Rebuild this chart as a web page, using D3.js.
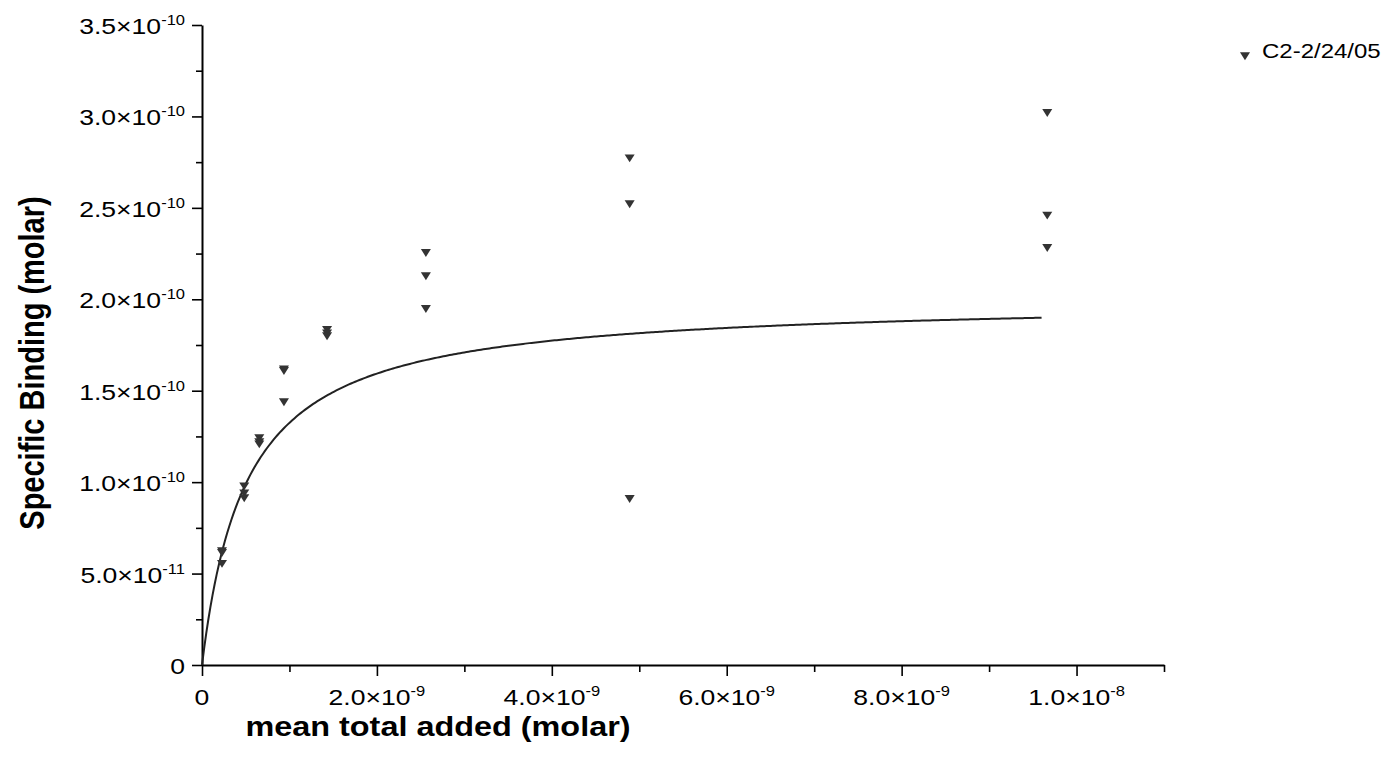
<!DOCTYPE html>
<html>
<head>
<meta charset="utf-8">
<script src="https://cdn.jsdelivr.net/npm/d3@7"></script>
<style>
  html, body { margin: 0; padding: 0; background: #fff; }
  svg { display: block; font-family: "Liberation Sans", Arial, sans-serif; }
</style>
</head>
<body>
<svg id="chart" width="1390" height="761"></svg>
<script>
// ---------- data ----------
const xAdded = [0.2286e-9, 0.483e-9, 0.655e-9, 0.937e-9, 1.43e-9, 2.56e-9, 4.89e-9, 9.665e-9];
const rep1 = [6.30e-11, 9.84e-11, 1.247e-10, 1.624e-10, 1.840e-10, 2.260e-10, 2.778e-10, 3.026e-10];
const rep2 = [6.20e-11, 9.46e-11, 1.225e-10, 1.615e-10, 1.820e-10, 2.133e-10, 2.527e-10, 2.465e-10];
const rep3 = [5.60e-11, 9.19e-11, 1.214e-10, 1.444e-10, 1.805e-10, 1.954e-10, 0.915e-10, 2.288e-10];
const seriesName = "C2-2/24/05";

// one-site binding fit: y = Bmax * x / (Kd + x)
const fitBmax = 2.0e-10;
const fitKd = 0.51e-9;
const fitXmax = 9.6e-9;

const xMajor = [0, 2e-9, 4e-9, 6e-9, 8e-9, 1e-8];
const xMinor = [1e-9, 3e-9, 5e-9, 7e-9, 9e-9, 1.1e-8];
const xTickLabels = [["0", ""], ["2.0×10", "-9"], ["4.0×10", "-9"], ["6.0×10", "-9"], ["8.0×10", "-9"], ["1.0×10", "-8"]];
const yMajor = [0, 5e-11, 1e-10, 1.5e-10, 2e-10, 2.5e-10, 3e-10, 3.5e-10];
const yMinor = [2.5e-11, 7.5e-11, 1.25e-10, 1.75e-10, 2.25e-10, 2.75e-10, 3.25e-10];
const yTickLabels = [["0", ""], ["5.0×10", "-11"], ["1.0×10", "-10"], ["1.5×10", "-10"], ["2.0×10", "-10"], ["2.5×10", "-10"], ["3.0×10", "-10"], ["3.5×10", "-10"]];
const xTitle = "mean total added (molar)";
const yTitle = "Specific Binding (molar)";

// ---------- drawing ----------
const svg = d3.select("#chart");
const sx = 1.18; // horizontal stretch of the original export

const x = d3.scaleLinear().domain([0, 1.1e-8]).range([202, 1164]);
const y = d3.scaleLinear().domain([0, 3.5e-10]).range([665, 25]);

const ink = "#000";
const markColor = "#333";

// X axis
const gx = svg.append("g").attr("transform", `translate(0,${y(0)})`);
gx.call(d3.axisBottom(x).tickValues(xMajor).tickSize(11).tickSizeOuter(0).tickFormat(""));
const gxm = svg.append("g").attr("transform", `translate(0,${y(0)})`);
gxm.call(d3.axisBottom(x).tickValues(xMinor).tickSize(7).tickSizeOuter(0).tickFormat(""));
gxm.select(".domain").remove();

// Y axis
const gy = svg.append("g").attr("transform", `translate(${x(0)},0)`);
gy.call(d3.axisLeft(y).tickValues(yMajor).tickSize(10).tickSizeOuter(0).tickFormat(""));
const gym = svg.append("g").attr("transform", `translate(${x(0)},0)`);
gym.call(d3.axisLeft(y).tickValues(yMinor).tickSize(6).tickSizeOuter(0).tickFormat(""));
gym.select(".domain").remove();

svg.selectAll(".domain").attr("stroke", ink).attr("stroke-width", 2);
svg.selectAll(".tick line").attr("stroke", ink).attr("stroke-width", 1.6);

// tick labels
function addLabel(g, px, py, parts, anchor) {
  const t = g.append("text")
    .attr("transform", `translate(${px},${py}) scale(${sx},1)`)
    .attr("text-anchor", anchor)
    .attr("font-size", 22.5)
    .attr("fill", ink);
  t.append("tspan").text(parts[0]);
  if (parts[1]) {
    t.append("tspan").attr("font-size", 14).attr("dy", -9).text(parts[1]);
  }
}
const lab = svg.append("g");
xMajor.forEach((v, i) => addLabel(lab, x(v), 705, xTickLabels[i], "middle"));
yMajor.forEach((v, i) => addLabel(lab, 185, y(v) + 9, yTickLabels[i], "end"));

// axis titles
svg.append("text")
  .attr("transform", `translate(438,736) scale(1.2,1)`)
  .attr("text-anchor", "middle")
  .attr("font-size", 27).attr("font-weight", "bold").attr("fill", ink)
  .text(xTitle);
svg.append("text")
  .attr("transform", `translate(44,363) scale(1.2,1) rotate(-90)`)
  .attr("text-anchor", "middle")
  .attr("font-size", 29).attr("font-weight", "bold").attr("fill", ink)
  .text(yTitle);

// fitted curve
const curveX = d3.range(0, 401).map(i => fitXmax * i / 400);
const line = d3.line()
  .x(d => x(d))
  .y(d => y(fitBmax * d / (fitKd + d)));
svg.append("path")
  .datum(curveX)
  .attr("d", line)
  .attr("fill", "none")
  .attr("stroke", "#222")
  .attr("stroke-width", 2);

// points
const tri = d3.symbol().type(d3.symbolTriangle).size(36);
const pts = [];
[rep1, rep2, rep3].forEach(rep => rep.forEach((v, i) => pts.push([xAdded[i], v])));
svg.append("g").selectAll("path").data(pts).join("path")
  .attr("d", tri)
  .attr("transform", d => `translate(${x(d[0])},${y(d[1])}) scale(${1.1},1) rotate(180)`)
  .attr("fill", markColor);

// legend
svg.append("path")
  .attr("d", tri)
  .attr("transform", `translate(1245,55) scale(1.1,1) rotate(180)`)
  .attr("fill", markColor);
svg.append("text")
  .attr("transform", `translate(1262,58) scale(1.2,1)`)
  .attr("font-size", 20).attr("fill", ink)
  .text(seriesName);
</script>
</body>
</html>
